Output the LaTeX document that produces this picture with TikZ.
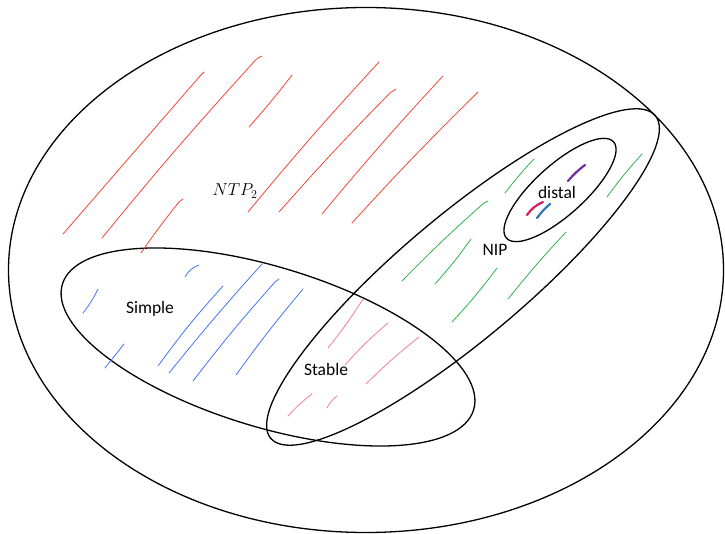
\documentclass[tikz,border=0pt]{standalone}
\usepackage{fontspec}
\setmainfont{Carlito}
\begin{document}
\begin{tikzpicture}[x=1pt,y=-1pt,
  venn/.style={draw=black,line width=1.3pt},
  hatch/.style={line width=0.8pt,line cap=round},
  redh/.style={hatch,draw=hred},
  blueh/.style={hatch,draw=hblue},
  greenh/.style={hatch,draw=hgreen},
  pinkh/.style={hatch,draw=hpink},
  dot/.style={line width=2.2pt,line cap=round},
  lab/.style={font=\fontsize{17.5}{20}\selectfont,inner sep=0pt}]
\definecolor{hred}{RGB}{240,72,52}
\definecolor{hblue}{RGB}{66,118,240}
\definecolor{hgreen}{RGB}{46,178,74}
\definecolor{hpink}{RGB}{242,124,170}
\definecolor{hpurple}{RGB}{112,48,160}
\definecolor{hmag}{RGB}{214,30,100}
\definecolor{hdblue}{RGB}{46,117,182}
\useasboundingbox (0,0) rectangle (725,534);
% outer region
\draw[venn] (366,270) ellipse [x radius=357.5pt, y radius=262.5pt];
% Simple
\draw[venn,rotate around={-17:(268,347)}] (268,347) ellipse [x radius=215pt, y radius=80pt];
% NIP
\draw[venn,rotate around={40:(463,277)}] (463,277) ellipse [x radius=251pt, y radius=62pt];
% distal
\draw[venn,rotate around={42:(560,190)}] (560,190) ellipse [x radius=72pt, y radius=25pt];
% red hatching
\draw[redh] (63,234) -- (200,76) -- (204,72);
\draw[redh] (102,238) to[bend left=1.5] (252,64) to[bend left=15] (262,56);
\draw[redh] (141,253) to[bend left=2] (179,202) -- (183,199);
\draw[redh] (249,127) to[bend right=2] (292,75);
\draw[redh] (248,212) to[bend left=1.5] (379,62);
\draw[redh] (279,212) to[bend left=1.5] (390,93) -- (396,89);
\draw[redh] (322,214) to[bend left=1.5] (443,76);
\draw[redh] (352,223) to[bend left=1.5] (474,96) -- (478,92);
% blue hatching
\draw[blueh] (83,313) to[bend right=6] (98,289);
\draw[blueh] (185,277) to[bend left=20] (199,265);
\draw[blueh] (105,368) -- (124,344);
\draw[blueh] (158,366) to[bend left=3] (223,286);
\draw[blueh] (169,373) to[bend left=1.5] (262,264);
\draw[blueh] (193,381) to[bend left=2] (275,282) -- (279,279);
\draw[blueh] (236,375) to[bend left=2] (303,289);
% pink hatching
\draw[pinkh] (328,348) to[bend right=3] (363,299);
\draw[pinkh] (345,365) to[bend left=4] (388,323);
\draw[pinkh] (366,384) to[bend left=3] (419,337);
\draw[pinkh] (288,416) to[bend left=5] (312,394);
\draw[pinkh] (327,408) to[bend left=12] (337,396);
% green hatching
\draw[greenh] (505,193) to[bend left=3] (534,159);
\draw[greenh] (607,197) to[bend left=3] (642,154);
\draw[greenh] (402,281) to[bend left=2] (484,203) -- (488,201);
\draw[greenh] (435,284) to[bend right=3] (471,239);
\draw[greenh] (452,322) to[bend right=3] (497,268);
\draw[greenh] (508,299) to[bend left=2] (566,232);
% distal marks
\draw[dot,draw=hpurple] (568,181) to[bend left=6] (585,165);
\draw[dot,draw=hmag] (527,215) to[bend left=15] (543,202);
\draw[dot,draw=hdblue] (537,218) to[bend left=6] (550,204);
% labels
\node[lab] (ntp) at (235,191) {\fontsize{17}{19}\selectfont$NTP_2$};
\node[lab] (simple) at (150,309) {Simple};
\node[lab] (stable) at (326,369) {Stable};
\node[lab] (nip) at (495,250) {NIP};
\node[lab] (distal) at (557,192) {distal};
\end{tikzpicture}
\end{document}
